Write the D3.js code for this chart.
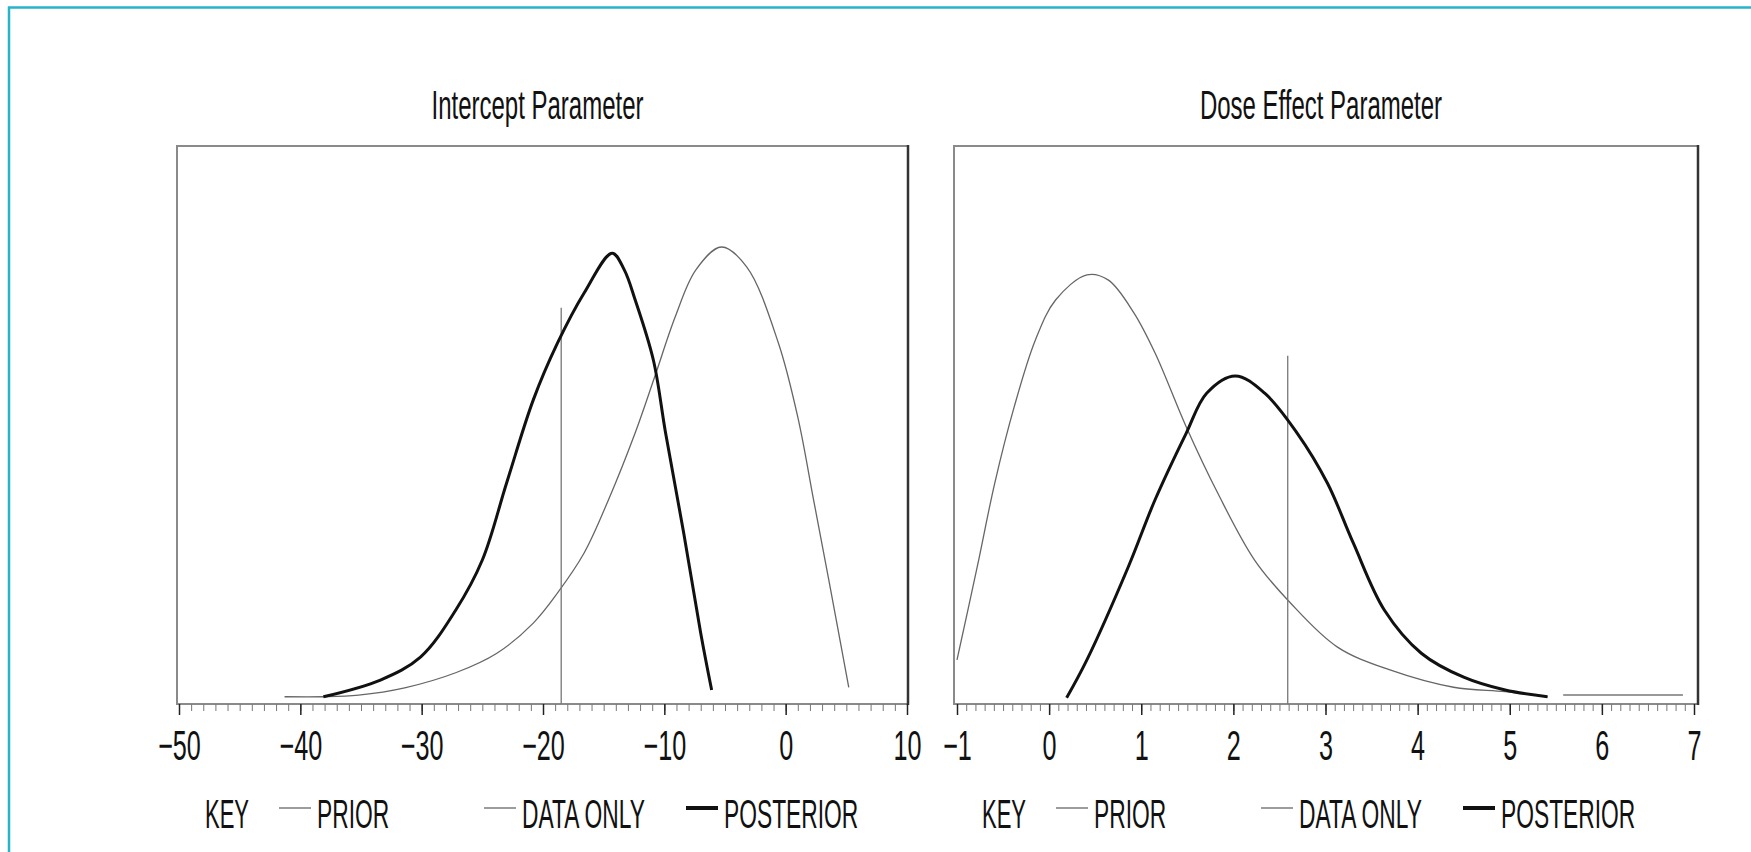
<!DOCTYPE html>
<html>
<head>
<meta charset="utf-8">
<script src="https://cdn.jsdelivr.net/npm/d3@7"></script>
<style>
  body { margin: 0; background: #fff; overflow: hidden; }
  text { font-family: "Liberation Sans", Arial, sans-serif; fill: #111; }
</style>
</head>
<body>
<div id="chart"></div>
<script>
'use strict';

// panel titles and axis ticks
const titles = ['Intercept Parameter', 'Dose Effect Parameter'];
const interceptTicks = [-50, -40, -30, -20, -10, 0, 10];
const doseTicks = [-1, 0, 1, 2, 3, 4, 5, 6, 7];
const legendLabels = ['PRIOR', 'DATA ONLY', 'POSTERIOR'];

// intercept parameter (relative density, 0-100)
const interceptPriorX = [-41.3, -38.1, -35.2, -31.4, -27.2, -23.8, -20.8, -18.8, -16.6, -14.6, -12.4, -10.8, -9.1, -7.4, -5.3, -3.2, -0.6, 1.0, 2.3, 3.6, 5.2];
const interceptPriorY = [1.3, 1.3, 1.6, 2.9, 5.6, 9.1, 14.5, 19.9, 27.1, 36.6, 48.6, 58.6, 69.4, 77.8, 81.9, 78.3, 64.7, 51.4, 36.6, 21.7, 3.0];
const interceptPostX = [-38.1, -33.4, -30.1, -27.2, -25.0, -23.0, -20.8, -18.8, -16.6, -14.3, -13.3, -12.4, -10.9, -9.9, -8.4, -7.0, -6.1];
const interceptPostY = [1.3, 4.3, 8.4, 16.8, 25.8, 39.6, 54.5, 64.7, 73.7, 80.8, 77.8, 72.4, 61.6, 48.6, 30.6, 12.7, 2.5];
const interceptDataX = [-18.5];
const interceptDataY = [71.0];

// dose effect parameter
const dosePriorX = [-1.0, -0.78, -0.59, -0.38, -0.15, 0.07, 0.41, 0.64, 0.92, 1.15, 1.49, 1.83, 2.23, 2.62, 3.13, 3.70, 4.39, 4.95, 5.41];
const dosePriorY = [7.9, 24.6, 39.6, 53.2, 65.2, 72.4, 76.9, 76.0, 70.1, 62.9, 49.6, 37.8, 25.8, 18.1, 10.2, 6.1, 3.0, 2.2, 1.3];
const dosePostX = [0.19, 0.41, 0.86, 1.15, 1.49, 1.71, 2.02, 2.34, 2.69, 3.02, 3.30, 3.64, 4.04, 4.50, 4.95, 5.41];
const dosePostY = [1.1, 7.9, 24.6, 36.6, 48.6, 55.7, 58.8, 55.7, 48.6, 39.6, 28.9, 16.8, 9.1, 4.8, 2.5, 1.3];
const doseDataX = [2.59];
const doseDataY = [62.4];
const doseFlatX = [5.58, 6.88];
const doseFlatY = [1.6, 1.6];


function zip(xs, ys) {
    return xs.map((x, i) => ({x: x, y: ys[i]}));
}

const panels = [
    {
        title: titles[0], ticks: interceptTicks, minorStep: 1,
        box: [177, 908], range: [179, 907],
        prior: zip(interceptPriorX, interceptPriorY),
        post: zip(interceptPostX, interceptPostY),
        data: zip(interceptDataX, interceptDataY),
        flat: []
    },
    {
        title: titles[1], ticks: doseTicks, minorStep: 0.1,
        box: [954, 1698], range: [957, 1694],
        prior: zip(dosePriorX, dosePriorY),
        post: zip(dosePostX, dosePostY),
        data: zip(doseDataX, doseDataY),
        flat: zip(doseFlatX, doseFlatY)
    }
];

let dim = {
    width: 1751,
    height: 852,
    top: 146,
    bottom: 704
};

let svg = d3.select('#chart')
    .append('svg')
    .attr('width', dim.width)
    .attr('height', dim.height);

// cyan frame (runs off the right and bottom edges)
svg.append('rect')
    .attr('x', 9).attr('y', 7.5)
    .attr('width', 1800).attr('height', 900)
    .attr('fill', 'none')
    .attr('stroke', '#27b4ca')
    .attr('stroke-width', 2.5);

const yScale = d3.scaleLinear()
    .domain([0, 100])
    .range([dim.bottom, dim.top]);

panels.forEach(function(p) {
    const g = svg.append('g');
    const x0 = p.box[0], x1 = p.box[1];

    const xScale = d3.scaleLinear()
        .domain(d3.extent(p.ticks))
        .range(p.range);

    // title
    g.append('text')
        .attr('transform', `translate(${(x0 + x1) / 2 - 5}, 119) scale(0.6, 1)`)
        .attr('text-anchor', 'middle')
        .style('font-size', '40px')
        .text(p.title);

    // frame of the plot
    g.append('rect')
        .attr('x', x0).attr('y', dim.top)
        .attr('width', x1 - x0).attr('height', dim.bottom - dim.top)
        .attr('fill', 'none')
        .attr('stroke', '#8a8a8a')
        .attr('stroke-width', 2);
    g.append('line')
        .attr('x1', x1).attr('x2', x1)
        .attr('y1', dim.top - 1).attr('y2', dim.bottom + 1)
        .attr('stroke', '#333')
        .attr('stroke-width', 2.5);

    // minor ticks
    const lo = p.ticks[0], hi = p.ticks[p.ticks.length - 1];
    const minor = d3.range(Math.round((hi - lo) / p.minorStep) + 1)
        .map(i => lo + i * p.minorStep);
    g.append('g')
        .attr('transform', `translate(0, ${dim.bottom})`)
        .call(d3.axisBottom(xScale).tickValues(minor).tickSize(7).tickFormat(''))
        .call(a => a.select('.domain').remove())
        .selectAll('line').attr('stroke', '#777');

    // major ticks and labels
    const axis = g.append('g')
        .attr('transform', `translate(0, ${dim.bottom})`)
        .call(d3.axisBottom(xScale).tickValues(p.ticks).tickSize(11));
    axis.select('.domain').remove();
    axis.selectAll('line').attr('stroke', '#222').attr('stroke-width', 1.5);
    axis.selectAll('text')
        .attr('y', 0).attr('dy', 0)
        .attr('transform', 'translate(0, 56) scale(0.6, 1)')
        .style('font-size', '42px')
        .style('fill', '#111')
        .attr('font-family', null);

    const line = d3.line()
        .x(d => xScale(d.x))
        .y(d => yScale(d.y))
        .curve(d3.curveCatmullRom.alpha(0.5));

    // prior curve
    g.append('path')
        .attr('d', line(p.prior))
        .attr('fill', 'none')
        .attr('stroke', '#666')
        .attr('stroke-width', 1.3);

    if (p.flat.length) {
        g.append('path')
            .attr('d', line(p.flat))
            .attr('fill', 'none')
            .attr('stroke', '#777')
            .attr('stroke-width', 1.6);
    }

    // data only estimate (vertical line)
    g.selectAll('.dataonly')
        .data(p.data)
        .enter()
        .append('line')
        .attr('class', 'dataonly')
        .attr('x1', d => xScale(d.x)).attr('x2', d => xScale(d.x))
        .attr('y1', yScale(0)).attr('y2', d => yScale(d.y))
        .attr('stroke', '#777')
        .attr('stroke-width', 1.3);

    // posterior curve
    g.append('path')
        .attr('d', line(p.post))
        .attr('fill', 'none')
        .attr('stroke', '#111')
        .attr('stroke-width', 3);

    // legend
    const ly = 828;
    const legend = g.append('g').attr('transform', `translate(${x0}, 0)`);
    legend.append('text')
        .attr('transform', `translate(28, ${ly}) scale(0.55, 1)`)
        .style('font-size', '40px')
        .text('KEY');

    const items = [
        {label: legendLabels[0], lx: 102, tx: 140, w: 1.3, c: '#666'},
        {label: legendLabels[1], lx: 307, tx: 345, w: 1.3, c: '#666'},
        {label: legendLabels[2], lx: 509, tx: 547, w: 4, c: '#111'}
    ];
    items.forEach(function(it) {
        legend.append('line')
            .attr('x1', it.lx).attr('x2', it.lx + 32)
            .attr('y1', ly - 20).attr('y2', ly - 20)
            .attr('stroke', it.c)
            .attr('stroke-width', it.w);
        legend.append('text')
            .attr('transform', `translate(${it.tx}, ${ly}) scale(0.57, 1)`)
            .style('font-size', '40px')
            .text(it.label);
    });
});
</script>
</body>
</html>
